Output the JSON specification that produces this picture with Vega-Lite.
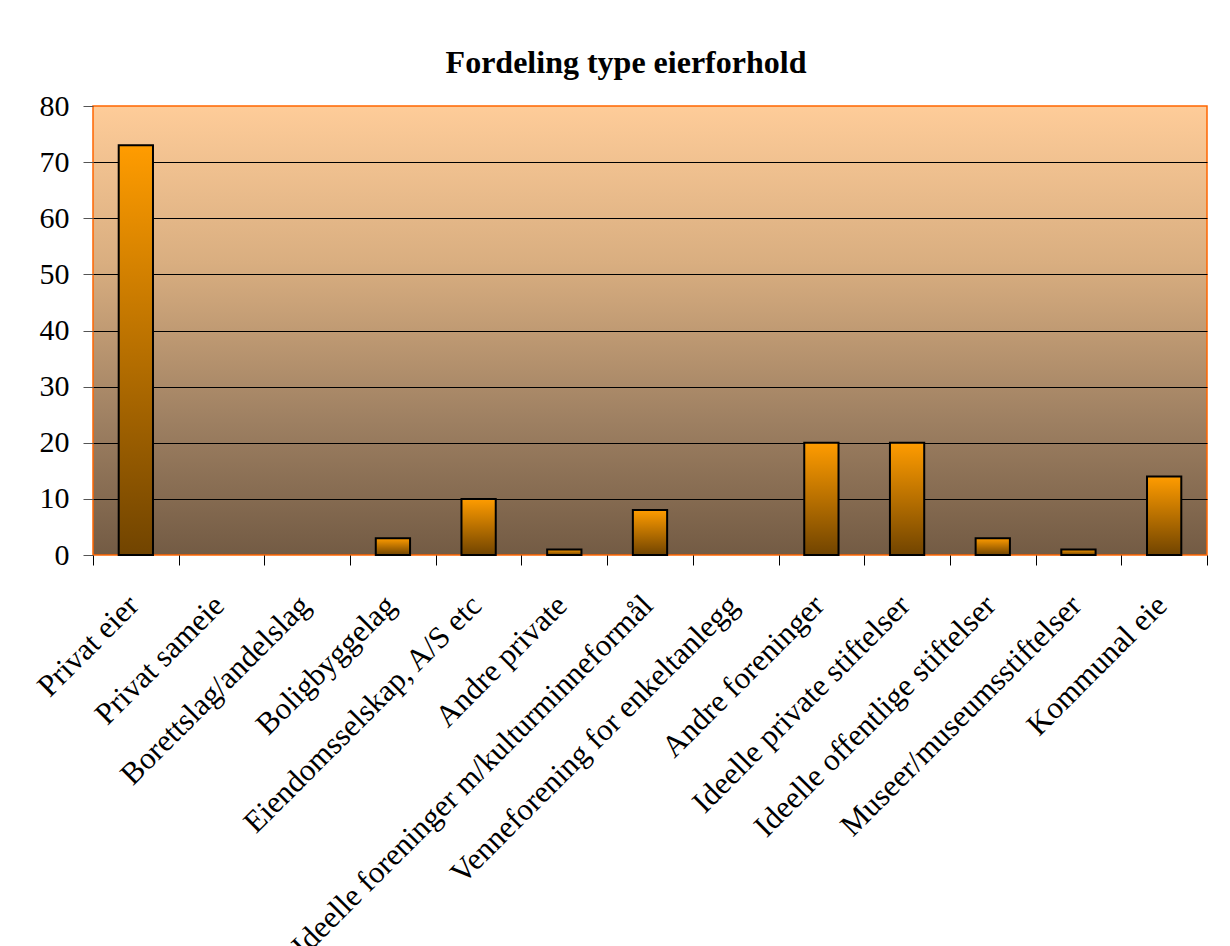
{
  "$schema": "https://vega.github.io/schema/vega-lite/v6.json",
  "autosize": {"type": "none"},
  "width": 1114,
  "height": 449,
  "padding": {"left": 93, "top": 106, "right": 23, "bottom": 391},
  "background": "white",
  "title": {
    "text": "Fordeling type eierforhold",
    "font": "Liberation Serif",
    "fontSize": 32,
    "fontWeight": "bold",
    "color": "black",
    "frame": "group",
    "anchor": "middle",
    "baseline": "alphabetic",
    "offset": 35,
    "dx": -24,
    "dy": 49
  },
  "config": {
    "view": {
      "stroke": "#FF6600",
      "strokeWidth": 1.5,
      "fill": {
        "gradient": "linear",
        "x1": 0, "y1": 0, "x2": 0, "y2": 1,
        "stops": [
          {"offset": 0, "color": "#FECC99"},
          {"offset": 0.35, "color": "#D9AE80"},
          {"offset": 0.7, "color": "#9E8062"},
          {"offset": 1, "color": "#735B44"}
        ]
      }
    }
  },
  "data": {
    "values": [
      {"kategori": "Privat eier", "antall": 73},
      {"kategori": "Privat sameie", "antall": 0},
      {"kategori": "Borettslag/andelslag", "antall": 0},
      {"kategori": "Boligbyggelag", "antall": 3},
      {"kategori": "Eiendomsselskap, A/S etc", "antall": 10},
      {"kategori": "Andre private", "antall": 1},
      {"kategori": "Ideelle foreninger m/kulturminneformål", "antall": 8},
      {"kategori": "Venneforening for enkeltanlegg", "antall": 0},
      {"kategori": "Andre foreninger", "antall": 20},
      {"kategori": "Ideelle private stiftelser", "antall": 20},
      {"kategori": "Ideelle offentlige stiftelser", "antall": 3},
      {"kategori": "Museer/museumsstiftelser", "antall": 1},
      {"kategori": "Kommunal eie", "antall": 14}
    ]
  },
  "mark": {
    "type": "bar",
    "width": {"band": 0.4},
    "stroke": "black",
    "strokeWidth": 2,
    "fill": {
      "gradient": "linear",
      "x1": 0, "y1": 0, "x2": 0, "y2": 1,
      "stops": [
        {"offset": 0, "color": "#FF9C00"},
        {"offset": 1, "color": "#714400"}
      ]
    }
  },
  "encoding": {
    "x": {
      "field": "kategori",
      "type": "nominal",
      "sort": null,
      "scale": {"paddingInner": 0, "paddingOuter": 0},
      "axis": {
        "title": null,
        "domain": false,
        "tickBand": "extent",
        "tickColor": "black",
        "tickSize": 10,
        "labelAngle": -45,
        "labelAlign": "right",
        "labelBaseline": "alphabetic",
        "labelFont": "Liberation Serif",
        "labelFontSize": 31,
        "labelColor": "black",
        "labelPadding": 42,
        "labelOffset": 4,
        "labelLimit": 0,
        "labelOverlap": false
      }
    },
    "y": {
      "field": "antall",
      "type": "quantitative",
      "scale": {"domain": [0, 80], "nice": false},
      "axis": {
        "title": null,
        "domain": false,
        "values": [0, 10, 20, 30, 40, 50, 60, 70, 80],
        "tickColor": "#555555",
        "tickSize": 10,
        "labelFont": "Liberation Serif",
        "labelFontSize": 30,
        "labelColor": "black",
        "labelPadding": 14,
        "grid": true,
        "gridColor": "black",
        "gridWidth": 1,
        "gridOpacity": {"condition": {"test": "datum.value === 0 || datum.value === 80", "value": 0}, "value": 1}
      }
    },
    "strokeOpacity": {"condition": {"test": "datum.antall > 0", "value": 1}, "value": 0}
  }
}
